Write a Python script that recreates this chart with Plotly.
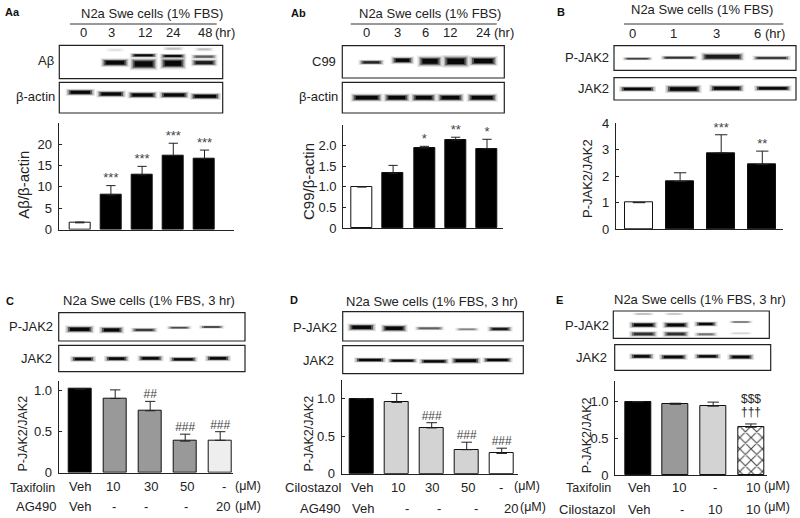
import plotly.graph_objects as go

W, H = 800, 518
FONT = "Liberation Sans"
INK = "#222222"

# ---- chart data ----
aa_times = ["0", "3", "12", "24", "48"]
aa_values = [1.6, 8.1, 12.8, 17.3, 16.6]
aa_errors = [0.2, 2.2, 2.0, 2.9, 2.0]
aa_marks = ["", "***", "***", "***", "***"]

ab_times = ["0", "3", "6", "12", "24"]
ab_values = [1.0, 1.33, 1.94, 2.13, 1.92]
ab_errors = [0.0, 0.19, 0.04, 0.07, 0.23]
ab_marks = ["", "", "*", "**", "*"]

b_times = ["0", "1", "3", "6"]
b_values = [1.0, 1.8, 2.88, 2.44]
b_errors = [0.0, 0.33, 0.69, 0.51]
b_marks = ["", "", "***", "**"]

c_taxifolin = ["Veh", "10", "30", "50", "-"]
c_ag490 = ["Veh", "-", "-", "-", "20"]
c_values = [1.02, 0.905, 0.755, 0.385, 0.395]
c_errors = [0.0, 0.105, 0.115, 0.085, 0.105]
c_marks = ["", "", "##", "###", "###"]

d_cilostazol = ["Veh", "10", "30", "50", "-"]
d_ag490 = ["Veh", "-", "-", "-", "20"]
d_values = [1.0, 0.95, 0.61, 0.32, 0.27]
d_errors = [0.0, 0.12, 0.07, 0.10, 0.07]
d_marks = ["", "", "###", "###", "###"]

e_taxifolin = ["Veh", "10", "-", "10"]
e_cilostazol = ["Veh", "-", "10", "10"]
e_values = [0.99, 0.955, 0.93, 0.645]
e_errors = [0.0, 0.015, 0.055, 0.045]
e_marks_lower = ["", "", "", "†††"]
e_marks_upper = ["", "", "", "$$$"]

fig = go.Figure()
annotations, shapes = [], []


def text(x, y, s, size=13, anchor="center", bold=False, angle=0, color=INK):
    annotations.append(dict(
        x=x / W, y=1 - y / H, xref="paper", yref="paper", text=f"<b>{s}</b>" if bold else s,
        showarrow=False, xanchor=anchor, yanchor="middle", textangle=angle,
        font=dict(family=FONT, size=size, color=color), align="center",
        borderpad=0, borderwidth=0))


def rule(x0, y, x1):
    shapes.append(dict(type="line", xref="paper", yref="paper",
                       x0=x0 / W, x1=x1 / W, y0=1 - y / H, y1=1 - y / H,
                       line=dict(color="#333333", width=1)))


def box(x0, y0, x1, y1):
    shapes.append(dict(type="rect", xref="paper", yref="paper",
                       x0=x0 / W, x1=x1 / W, y0=1 - y0 / H, y1=1 - y1 / H,
                       line=dict(color="#222222", width=1.2), fillcolor="rgba(0,0,0,0)"))


def band(ox, oy, x0, x1, y, thick, shade=0):
    """Blot band, given in 3x crop coordinates of its panel."""
    x0, x1 = ox + x0 / 3, ox + x1 / 3
    y = oy + y / 3
    t = thick / 3
    c = f"rgb({shade},{shade},{shade})"
    for dx, w, op in [(-1, t * 1.9, 0.10), (0.5, t * 1.5, 0.22), (2, t * 1.15, 0.5), (4, t * 0.8, 0.9)]:
        fig.add_trace(go.Scatter(x=[x0 + dx, x1 - dx], y=[y, y], mode="lines", xaxis="x7", yaxis="y7",
                                 line=dict(color=c, width=max(w, 0.8)), opacity=op, hoverinfo="skip"))


n = 0


def panel(values, errors, marks, colors, axis_x, axis_y0, axis_top, unit, c0, step, bw,
          ticks, ticklabels, pattern=None, mark_size=12):
    global n
    n += 1
    sx = "" if n == 1 else str(n)
    x0_px, x1_px = axis_x
    rng = [(x0_px - c0) / step, (x1_px - c0) / step]
    top = (axis_y0 - axis_top) / unit
    xs = list(range(len(values)))
    fig.add_trace(go.Bar(
        x=xs, y=values, width=bw / step, xaxis=f"x{sx}", yaxis=f"y{sx}",
        marker=dict(color=colors, line=dict(color="#111111", width=1),
                    pattern=pattern if pattern else None),
        error_y=dict(type="data", symmetric=False, array=errors, arrayminus=[0] * len(errors),
                     color="#222222", thickness=1, width=bw * 0.22)))
    fig.add_trace(go.Scatter(
        x=xs, y=[v + e for v, e in zip(values, errors)], text=marks, mode="text",
        textposition="top center", xaxis=f"x{sx}", yaxis=f"y{sx}", cliponaxis=False,
        textfont=dict(family=FONT, size=mark_size, color="#444444"), hoverinfo="skip"))
    common = dict(showgrid=False, zeroline=False, showline=True, linecolor="#222222", linewidth=1.2)
    fig.layout[f"xaxis{sx}"] = dict(domain=[x0_px / W, x1_px / W], range=rng, anchor=f"y{sx}",
                                    showticklabels=False, ticks="", **common)
    fig.layout[f"yaxis{sx}"] = dict(domain=[1 - axis_y0 / H, 1 - axis_top / H], range=[0, top],
                                    anchor=f"x{sx}", tickvals=ticks, ticktext=ticklabels,
                                    ticks="inside", ticklen=3, tickwidth=1, tickcolor="#222222",
                                    ticklabelstandoff=3,
                                    tickfont=dict(family=FONT, size=13, color=INK), **common)


BLK, G1, G2 = "#000000", "#999999", "#d3d3d3"
panel(aa_values, aa_errors, aa_marks, ["#ffffff", BLK, BLK, BLK, BLK], (58.7, 234), 229.7, 122.7, 4.28,
      79.7, 31.2, 21, [0, 5, 10, 15, 20], ["0", "5", "10", "15", "20"], mark_size=13)
panel(ab_values, ab_errors, ab_marks, ["#ffffff", BLK, BLK, BLK, BLK], (343.3, 503.3), 228.3, 125, 41.4,
      361.8, 31.3, 21, [0, 0.5, 1, 1.5, 2], ["0", "0.5", "1.0", "1.5", "2.0"], mark_size=13)
panel(b_values, b_errors, b_marks, ["#ffffff", BLK, BLK, BLK], (616, 783.3), 229, 123.3, 26.4,
      639, 41.1, 28, [0, 1, 2, 3, 4], ["0", "1", "2", "3", "4"], mark_size=13)
panel(c_values, c_errors, c_marks, [BLK, G1, G1, G1, "#eeeeee"], (58.7, 233.3), 472.7, 380.7, 82,
      80.2, 35, 23.5, [0, 0.5, 1], ["0", "0.5", "1.0"])
panel(d_values, d_errors, d_marks, [BLK, G2, G2, G2, "#ffffff"], (341.7, 518.3), 473.7, 380, 75,
      361.7, 35, 24, [0, 0.5, 1], ["0", "0.5", "1.0"])
panel(e_values, e_errors, [""] * 4, [BLK, G1, G2, "#ffffff"], (615.3, 766.7), 475, 381, 74,
      637.8, 37.7, 26, [0, 0.5, 1], ["0", "0.5", "1.0"],
      pattern=dict(shape=["", "", "", "x"], fgcolor="#000000", fgopacity=1, bgcolor="#ffffff", size=8, solidity=0.25))
# the two glyph rows of panel E stack above its last bar
for i in range(4):
    top_value = e_values[i] + e_errors[i]
    for s, shift in [(e_marks_lower[i], 12), (e_marks_upper[i], 25)]:
        if s:
            annotations.append(dict(x=i, y=top_value, xref="x6", yref="y6", text=s, showarrow=False,
                                    yshift=shift, xanchor="center", yanchor="middle",
                                    font=dict(family=FONT, size=12, color="#222222")))

# overlay axes in pixels for the blot pictures
fig.layout["xaxis7"] = dict(domain=[0, 1], range=[0, W], visible=False, anchor="y7")
fig.layout["yaxis7"] = dict(domain=[0, 1], range=[H, 0], visible=False, anchor="x7")

# ---- blots ----
box(59.3, 45.3, 222.7, 78.7); box(59.3, 82.3, 222.7, 113)
for b in [(490, 550, 146, 6, 190), (585, 640, 148, 6, 190), (320, 370, 150, 6, 225)]:
    band(0, 0, *b)
for b in [(305, 385, 188, 14), (392, 470, 192, 20), (392, 470, 166, 7), (482, 556, 190, 19), (482, 556, 168, 7),
          (575, 650, 188, 11, 20), (575, 650, 170, 7, 90)]:
    band(0, 0, *b)
for b in [(200, 282, 277, 11), (292, 375, 282, 11), (385, 470, 285, 11), (480, 565, 285, 11), (572, 660, 289, 11)]:
    band(0, 0, *b)

box(342.3, 45.7, 504.3, 78); box(342.3, 82.3, 504.3, 113)
for b in [(268, 340, 187, 8, 30), (365, 430, 181, 12), (445, 515, 184, 18), (520, 595, 184, 20), (600, 680, 183, 16)]:
    band(270, 0, *b)
for b in [(245, 335, 293, 13), (343, 418, 293, 13), (425, 497, 293, 13), (503, 580, 293, 13), (593, 680, 293, 13)]:
    band(270, 0, *b)

box(614, 45.7, 796, 70.3); box(614, 77.7, 796, 100)
for b in [(250, 335, 176, 5, 60), (365, 470, 173, 6, 40), (485, 610, 170, 13, 20), (640, 750, 174, 7, 50)]:
    band(540, 0, *b)
for b in [(240, 345, 267, 9), (378, 482, 267, 13), (510, 610, 265, 11), (645, 752, 265, 9)]:
    band(540, 0, *b)

box(58.7, 312.7, 245, 341); box(58.7, 345.3, 245, 371.7)
for b in [(198, 280, 178, 12), (300, 370, 180, 11), (395, 470, 180, 7, 50), (503, 572, 173, 5, 70), (600, 670, 171, 5, 50)]:
    band(0, 270, *b)
for b in [(213, 285, 267, 9), (315, 385, 266, 9), (415, 488, 265, 9), (510, 590, 268, 8), (618, 690, 265, 9)]:
    band(0, 270, *b)

box(342.7, 311.7, 523.3, 341); box(342.7, 345.7, 523.3, 373.7)
for b in [(235, 315, 172, 12), (335, 410, 175, 12), (437, 520, 175, 6, 90), (558, 625, 178, 5, 130), (655, 725, 177, 8, 20)]:
    band(270, 270, *b)
for b in [(255, 345, 270, 8), (355, 440, 272, 7), (450, 535, 274, 8), (545, 630, 272, 10), (640, 725, 270, 8)]:
    band(270, 270, *b)

box(613.3, 311, 769.3, 338.3); box(614.7, 344.7, 770.7, 370.3)
for b in [(280, 340, 132, 4, 180), (375, 430, 132, 4, 190), (270, 350, 165, 10), (270, 350, 192, 9, 40),
          (370, 445, 165, 10), (370, 445, 192, 9, 40),
          (465, 530, 162, 8), (465, 530, 193, 6, 110), (570, 635, 156, 4, 100), (570, 635, 190, 4, 210)]:
    band(540, 270, *b)
for b in [(270, 340, 259, 9), (360, 440, 261, 9), (465, 540, 259, 8), (565, 640, 261, 9)]:
    band(540, 270, *b)

# ---- panel letters and headers ----
for x, y, s in [(5, 12, "Aa"), (291, 13, "Ab"), (557, 12, "B"), (6, 301, "C"), (290, 300, "D"), (556, 300, "E")]:
    text(x, y, s, size=11, anchor="left", bold=True, color="#111111")

text(151.7, 13.7, "N2a Swe cells (1% FBS)"); rule(70, 24, 216.7)
text(430, 13.7, "N2a Swe cells (1% FBS)"); rule(350.7, 24, 496.7)
text(702.3, 9.5, "N2a Swe cells (1% FBS)"); rule(624, 24, 783.3)
text(149, 300.7, "N2a Swe cells (1% FBS, 3 hr)")
text(431.7, 301, "N2a Swe cells (1% FBS, 3 hr)")
text(700, 299, "N2a Swe cells (1% FBS, 3 hr)")

for xs, y, labels in [([83, 111, 145, 173, 205], 33, aa_times), ([366.7, 397.7, 425, 450, 483], 33, ab_times),
                      ([632.7, 673.7, 716, 757], 34, b_times)]:
    for x, s in zip(xs, labels):
        text(x, y, s)
text(225, 33, "(hr)"); text(504, 33, "(hr)"); text(775, 34, "(hr)")

text(45.7, 61, "Aβ"); text(35, 97, "β-actin")
text(324.3, 62, "C99"); text(318, 97, "β-actin")
text(609, 57, "P-JAK2", anchor="right"); text(609, 88, "JAK2", anchor="right")
text(53, 326.7, "P-JAK2", anchor="right"); text(51.7, 358.3, "JAK2", anchor="right")
text(336.7, 327, "P-JAK2", anchor="right"); text(334, 360, "JAK2", anchor="right")
text(609, 325, "P-JAK2", anchor="right"); text(606.7, 357, "JAK2", anchor="right")

text(22.7, 185, "Aβ/β-actin", size=15, angle=-90)
text(308.3, 181.7, "C99/β-actin", size=15, angle=-90)
text(587.7, 178.3, "P-JAK2/JAK2", angle=-90)
text(23.3, 433.3, "P-JAK2/JAK2", size=12.5, angle=-90)
text(309.3, 433.3, "P-JAK2/JAK2", size=12.5, angle=-90)
text(587.3, 435, "P-JAK2/JAK2", size=12.5, angle=-90)

# ---- treatment rows ----
text(32.3, 487.5, "Taxifolin", size=12.5); text(36, 506.7, "AG490")
for x, s in zip([80, 113, 151, 187, 224], c_taxifolin):
    text(x, 486.7, s)
for x, s in zip([80, 114, 146, 186, 223], c_ag490):
    text(x, 506.7, s)
text(248, 486, "(μM)", size=12.5); text(248, 505.5, "(μM)", size=12.5)

text(312.7, 487.3, "Cilostazol"); text(320, 508.7, "AG490")
for x, s in zip([361.7, 398, 432, 467.7, 500.7], d_cilostazol):
    text(x, 487.3, s)
for x, s in zip([362.7, 406.7, 439, 476, 511], d_ag490):
    text(x, 508.7, s)
text(527, 486, "(μM)", size=12.5); text(533, 506.5, "(μM)", size=12.5)

text(588.3, 488, "Taxifolin", size=12.5); text(586.7, 509, "Cilostazol")
for x, s in zip([639, 679, 715, 753], e_taxifolin):
    text(x, 487.3, s)
for x, s in zip([639.3, 681.7, 715, 753], e_cilostazol):
    text(x, 509, s)
text(777, 486, "(μM)", size=12.5); text(777.3, 506.5, "(μM)", size=12.5)

fig.update_layout(width=W, height=H, margin=dict(l=0, r=0, t=0, b=0, pad=0, autoexpand=False), showlegend=False,
                  paper_bgcolor="white", plot_bgcolor="rgba(0,0,0,0)", font=dict(family=FONT),
                  annotations=annotations, shapes=shapes, bargap=0)
fig.write_html("out.html", config={"displayModeBar": False}, post_script="document.body.style.margin='0';")
